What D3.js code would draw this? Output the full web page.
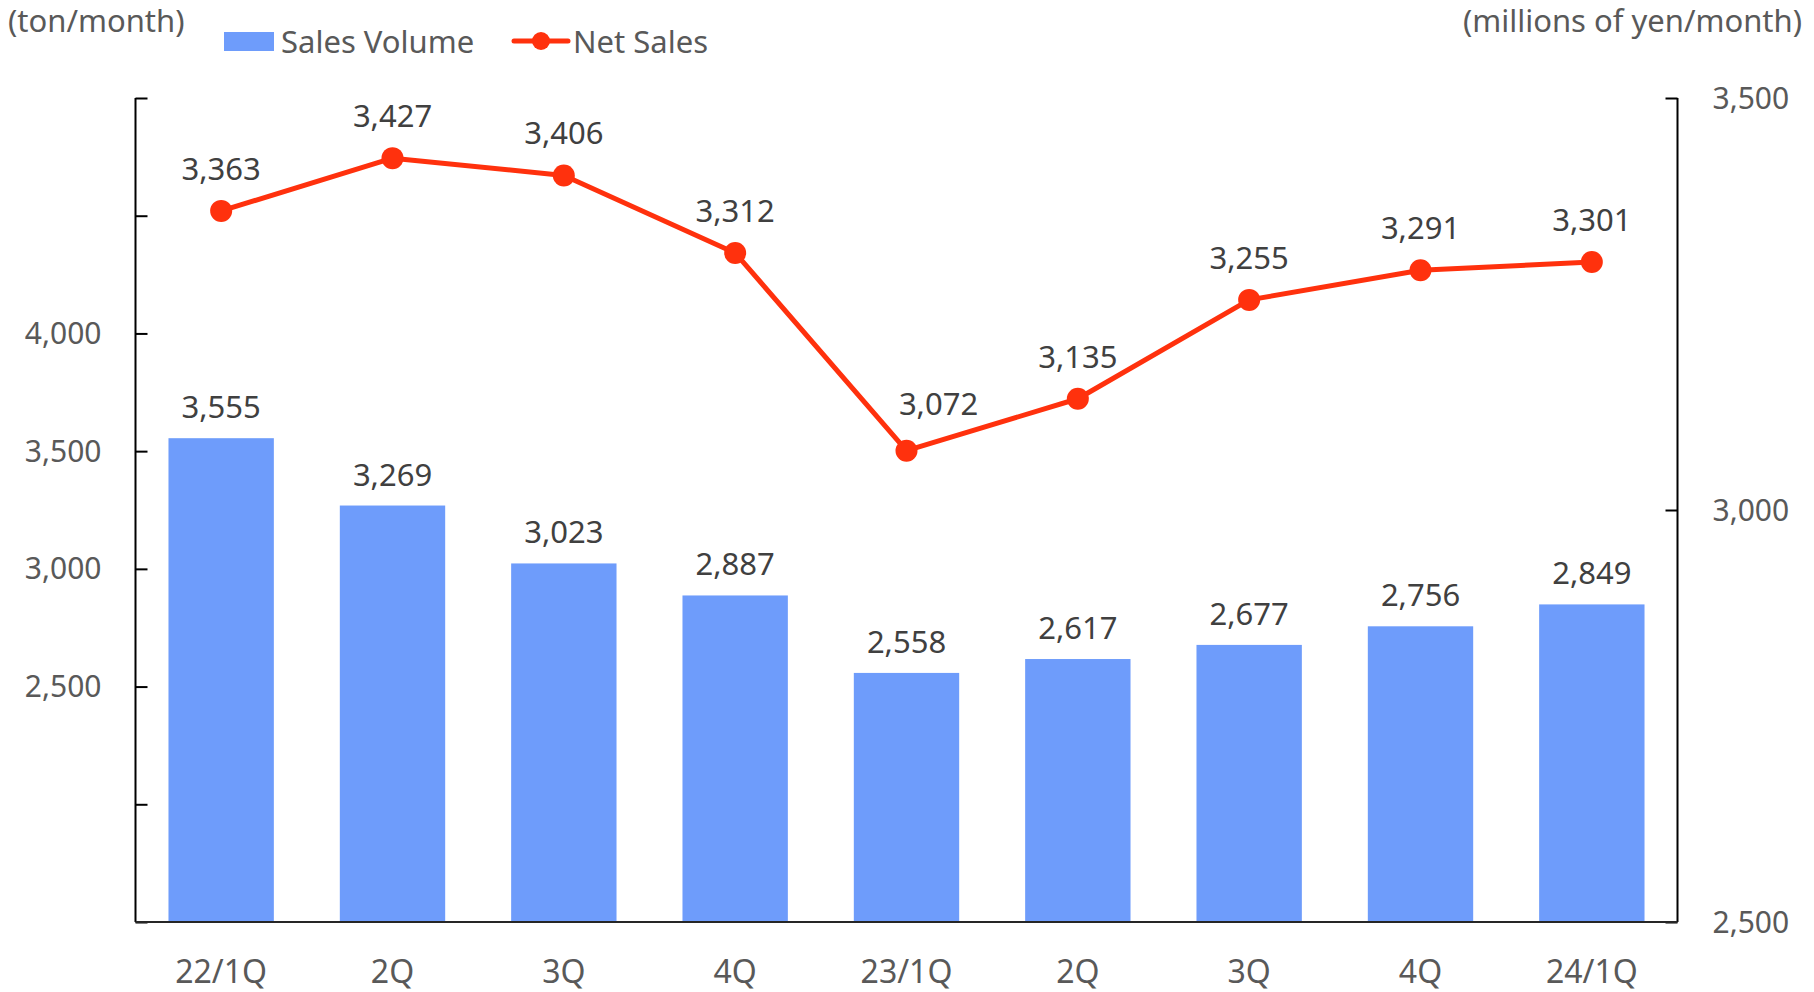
<!DOCTYPE html>
<html lang="en">
    <head>
        <meta charset="utf-8">
        <title>Sales Volume and Net Sales</title>
        <script type="text/javascript" src="https://d3js.org/d3.v7.min.js"></script>
        <style type="text/css">
            body { margin: 0; background: #fff; }
            text { font-family: "Noto Sans", "Open Sans", sans-serif; }
        </style>
    </head>
    <body>
        <div id="chart"></div>
        <script type="text/javascript">
            // chart data
            const quarters = ["22/1Q", "2Q", "3Q", "4Q", "23/1Q", "2Q ", "3Q ", "4Q ", "24/1Q"];
            const salesVolume = [3555, 3269, 3023, 2887, 2558, 2617, 2677, 2756, 2849];
            const netSales = [3363, 3427, 3406, 3312, 3072, 3135, 3255, 3291, 3301];
            const leftTicks = [1500, 2000, 2500, 3000, 3500, 4000, 4500, 5000];
            const leftLabelled = [2500, 3000, 3500, 4000];
            const rightTicks = [2500, 3000, 3500];

            const W = 1814, H = 992;
            const margin = {top: 98, right: 136.5, bottom: 70, left: 135.5};
            const width = W - margin.left - margin.right;
            const height = H - margin.top - margin.bottom;

            const barColor = "#6e9cfb";
            const lineColor = "#ff310d";
            const fmt = d3.format(",");

            const svg = d3.select("#chart")
                .append("svg")
                .attr("width", W)
                .attr("height", H);

            const g = svg.append("g")
                .attr("transform", "translate(" + margin.left + "," + margin.top + ")");

            let xScale = d3.scaleBand()
                .domain(quarters)
                .range([0, width])
                .paddingInner(0.385)
                .paddingOuter(0.1925);
            let yLeft = d3.scaleLinear().domain([1500, 5000]).range([height, 0]);
            let yRight = d3.scaleLinear().domain([2500, 3500]).range([height, 0]);
            const cx = i => xScale(quarters[i]) + xScale.bandwidth() / 2;

            // bars
            g.selectAll(".bar")
                .data(salesVolume)
                .enter()
                .append("rect")
                .attr("class", "bar")
                .attr("x", (d, i) => xScale(quarters[i]))
                .attr("y", d => yLeft(d))
                .attr("width", xScale.bandwidth())
                .attr("height", d => height - yLeft(d))
                .style("fill", barColor);

            // bar labels
            g.selectAll(".barLabel")
                .data(salesVolume)
                .enter()
                .append("text")
                .attr("x", (d, i) => cx(i))
                .attr("y", d => yLeft(d) - 20)
                .attr("text-anchor", "middle")
                .style("font-size", "31px")
                .style("fill", "#404040")
                .text(d => fmt(d));

            // axes
            const leftAxis = d3.axisRight(yLeft)
                .tickValues(leftTicks)
                .tickSize(12)
                .tickFormat("");
            g.append("g")
                .attr("class", "axis")
                .call(leftAxis)
                .call(a => a.select(".domain").remove());
            g.append("line")
                .attr("x1", 0).attr("x2", 0)
                .attr("y1", 0).attr("y2", height)
                .attr("stroke", "#000").attr("stroke-width", 2);

            g.selectAll(".leftLabel")
                .data(leftLabelled)
                .enter()
                .append("text")
                .attr("x", -34)
                .attr("y", d => yLeft(d))
                .attr("dy", "0.35em")
                .attr("text-anchor", "end")
                .style("font-size", "30px")
                .style("fill", "#595959")
                .text(d => fmt(d));

            const rightAxis = d3.axisLeft(yRight)
                .tickValues(rightTicks)
                .tickSize(12)
                .tickFormat("");
            g.append("g")
                .attr("class", "axis")
                .attr("transform", "translate(" + width + ",0)")
                .call(rightAxis)
                .call(a => a.select(".domain").remove());
            g.append("line")
                .attr("x1", width).attr("x2", width)
                .attr("y1", 0).attr("y2", height)
                .attr("stroke", "#000").attr("stroke-width", 2);

            g.selectAll(".rightLabel")
                .data(rightTicks)
                .enter()
                .append("text")
                .attr("x", width + 35)
                .attr("y", d => yRight(d))
                .attr("dy", "0.35em")
                .style("font-size", "30px")
                .style("fill", "#595959")
                .text(d => fmt(d));

            g.selectAll(".axis line").attr("stroke", "#000").attr("stroke-width", 2);

            // x axis
            g.append("line")
                .attr("x1", 0).attr("x2", width)
                .attr("y1", height).attr("y2", height)
                .attr("stroke", "#262626").attr("stroke-width", 2);
            g.selectAll(".xLabel")
                .data(quarters)
                .enter()
                .append("text")
                .attr("x", d => xScale(d) + xScale.bandwidth() / 2)
                .attr("y", height + 61)
                .attr("text-anchor", "middle")
                .style("font-size", "32px")
                .style("fill", "#595959")
                .text(d => d.trim());

            // net sales line
            const line = d3.line()
                .x((d, i) => cx(i))
                .y(d => yRight(d));
            g.append("path")
                .datum(netSales)
                .attr("d", line)
                .attr("fill", "none")
                .attr("stroke", lineColor)
                .attr("stroke-width", 5)
                .attr("stroke-linejoin", "round");
            g.selectAll(".dot")
                .data(netSales)
                .enter()
                .append("circle")
                .attr("cx", (d, i) => cx(i))
                .attr("cy", d => yRight(d))
                .attr("r", 11)
                .style("fill", lineColor);
            // the lowest label sits a little right so it clears the line
            const low = d3.minIndex(netSales);
            g.selectAll(".lineLabel")
                .data(netSales)
                .enter()
                .append("text")
                .attr("x", (d, i) => cx(i) + (i === low ? 32 : 0))
                .attr("y", (d, i) => yRight(d) - (i === low ? 36 : 31))
                .attr("text-anchor", "middle")
                .style("font-size", "31px")
                .style("fill", "#404040")
                .text(d => fmt(d));

            // unit labels
            svg.append("text")
                .attr("x", 8).attr("y", 32)
                .style("font-size", "31px")
                .style("fill", "#595959")
                .text("(ton/month)");
            svg.append("text")
                .attr("x", 1802).attr("y", 32)
                .attr("text-anchor", "end")
                .style("font-size", "31px")
                .style("fill", "#595959")
                .text("(millions of yen/month)");

            // legend
            const legend = svg.append("g");
            legend.append("rect")
                .attr("x", 224).attr("y", 32)
                .attr("width", 50).attr("height", 19)
                .style("fill", barColor);
            legend.append("text")
                .attr("x", 281).attr("y", 53)
                .style("font-size", "31px")
                .style("fill", "#595959")
                .text("Sales Volume");
            legend.append("line")
                .attr("x1", 514).attr("x2", 568)
                .attr("y1", 41).attr("y2", 41)
                .attr("stroke", lineColor).attr("stroke-width", 5)
                .attr("stroke-linecap", "round");
            legend.append("circle")
                .attr("cx", 541).attr("cy", 41).attr("r", 9)
                .style("fill", lineColor);
            legend.append("text")
                .attr("x", 573).attr("y", 53)
                .style("font-size", "31px")
                .style("fill", "#595959")
                .text("Net Sales");
        </script>
    </body>
</html>
